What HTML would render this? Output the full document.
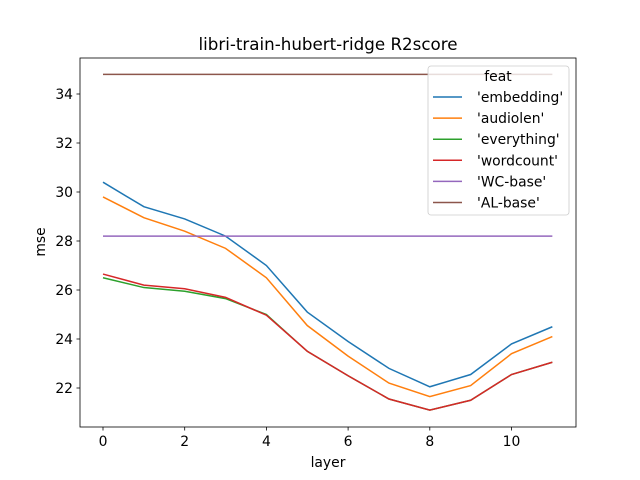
<!DOCTYPE html>
<html><head><meta charset="utf-8">
<style>body{margin:0;background:#fff}svg{display:block;font-family:"DejaVu Sans","Liberation Sans",sans-serif}</style>
</head><body>
<svg id="chart" width="640" height="480">
<rect width="640" height="480" fill="#fff"/>
<text x="328" y="50" font-size="16.7" text-anchor="middle">libri-train-hubert-ridge R2score</text>
<g id="plot"></g>
<rect x="80" y="58" width="496" height="369" fill="none" stroke="#000" stroke-width="0.8"/>
<g id="xt"></g><g id="yt"></g>
<text x="328" y="467" font-size="13.9" text-anchor="middle">layer</text>
<text transform="translate(45,242) rotate(-90)" font-size="13.9" text-anchor="middle">mse</text>
<g id="legend"></g>
</svg>
<script>
const layers=[0,1,2,3,4,5,6,7,8,9,10,11];
const seriesNames=["'embedding'","'audiolen'","'everything'","'wordcount'","'WC-base'","'AL-base'"];
const embedding=[30.4,29.4,28.9,28.2,27.0,25.1,23.9,22.8,22.05,22.55,23.8,24.5];
const audiolen=[29.8,28.95,28.4,27.7,26.5,24.55,23.3,22.2,21.65,22.1,23.4,24.1];
const everything=[26.5,26.1,25.95,25.65,25.0,23.5,22.5,21.55,21.1,21.5,22.55,23.05];
const wordcount=[26.65,26.2,26.05,25.7,24.97,23.5,22.5,21.55,21.1,21.5,22.55,23.05];
const wcBase=[28.2,28.2,28.2,28.2,28.2,28.2,28.2,28.2,28.2,28.2,28.2,28.2];
const alBase=[34.8,34.8,34.8,34.8,34.8,34.8,34.8,34.8,34.8,34.8,34.8,34.8];
const xTicks=[0,2,4,6,8,10];
const yTicks=[22,24,26,28,30,32,34];
const colors=["#1f77b4","#ff7f0e","#2ca02c","#d62728","#9467bd","#8c564b"];
const all=[embedding,audiolen,everything,wordcount,wcBase,alBase];
const NS="http://www.w3.org/2000/svg";
const xs=v=>103+(v-0)*40.85;
const ys=v=>388-(v-22)*24.5;
function mk(t,a,p){const e=document.createElementNS(NS,t);for(const k in a)e.setAttribute(k,a[k]);p.appendChild(e);return e;}
const plot=document.getElementById('plot');
all.forEach((s,i)=>{
 const p=mk('polyline',{points:s.map((v,j)=>xs(layers[j])+','+ys(v)).join(' '),fill:'none',stroke:colors[i],'stroke-width':1.5},plot);
 
 
});
const xt=document.getElementById('xt');
xTicks.forEach(t=>{
 const l=mk('line',{x1:xs(t),x2:xs(t),y1:427,y2:430.5,stroke:'#000','stroke-width':0.8},xt);
 
 
 const tx=mk('text',{x:xs(t),y:446,'font-size':13.9,'text-anchor':'middle'},xt);tx.textContent=t;
 
 
});
const yt=document.getElementById('yt');
yTicks.forEach(t=>{
 const l=mk('line',{x1:76.5,x2:80,y1:ys(t),y2:ys(t),stroke:'#000','stroke-width':0.8},yt);
 
 
 const tx=mk('text',{x:73,y:ys(t)+5,'font-size':13.9,'text-anchor':'end'},yt);tx.textContent=t;
 
 
});
const lg=document.getElementById('legend');
mk('rect',{x:428,y:66,width:141,height:149,rx:3,fill:'#fff','fill-opacity':0.8,stroke:'#ccc','stroke-width':0.8},lg);
const tt=mk('text',{x:498,y:81,'font-size':13.9,'text-anchor':'middle'},lg);tt.textContent='feat';


seriesNames.forEach((n,i)=>{
 const y=97+i*21.1;
 const g=mk('g',{},lg);
 
 
 mk('line',{x1:433,x2:462,y1:y,y2:y,stroke:colors[i],'stroke-width':1.5},g);
 const tx=mk('text',{x:477,y:y+5,'font-size':13.9},g);tx.textContent=n;
});
</script>
</body></html>
